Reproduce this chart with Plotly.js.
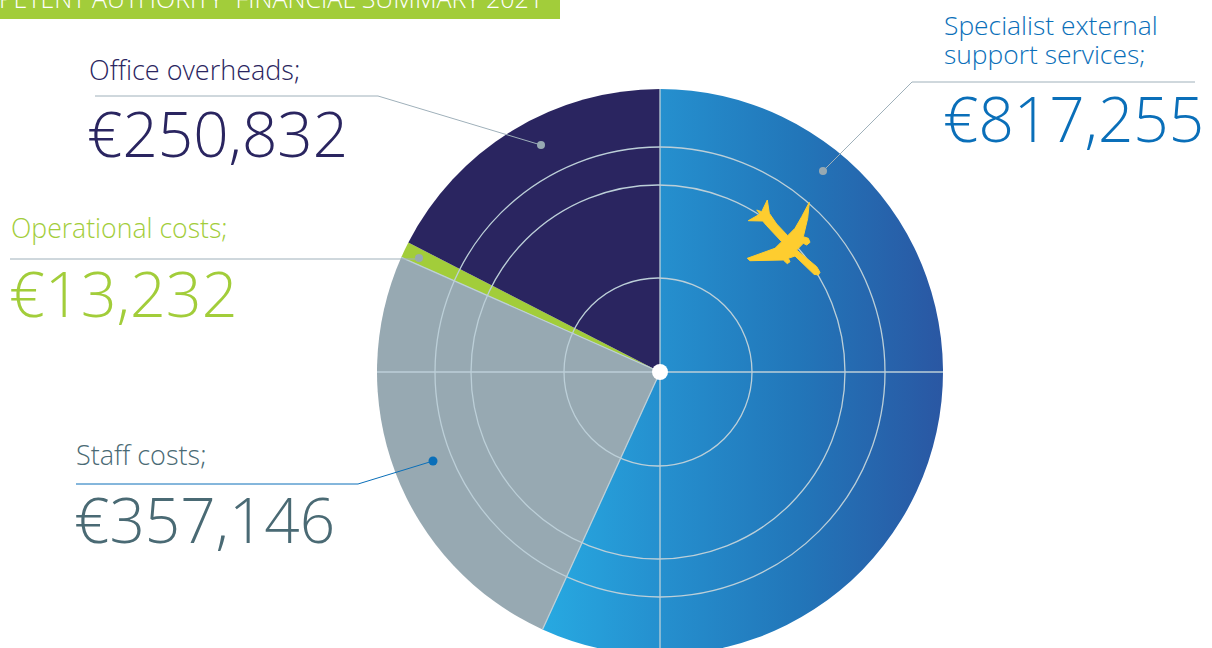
<!DOCTYPE html>
<html>
<head>
<meta charset="utf-8">
<script src="https://cdn.plot.ly/plotly-3.0.1.min.js"></script>
<style>html,body{margin:0;padding:0;background:#fff;overflow:hidden;width:1212px;height:648px}#chart{width:1212px;height:720px}</style>
</head>
<body>
<div id="chart"></div>
<script>
const categories = ["Specialist external support services", "Staff costs", "Operational costs", "Office overheads"];
const values = [817255, 357146, 13232, 250832];
const sliceColors = ["#2280c2", "#97a9b2", "#a2cd3a", "#2a2560"];
const valueLabels = ["€817,255", "€357,146", "€13,232", "€250,832"];
const ringRadii = [94, 187, 225];
const ringCentres = [658, 658, 660];
const W = 1212, H = 720, CX = 660, CY = 372, R = 283;
const px = x => x / W, py = y => 1 - y / H;

const shapes = [];
const refs = {xref: "paper", yref: "paper"};
const rect = (x0, y0, x1, y1, fill) => shapes.push({...refs, type: "rect", x0: px(x0), y0: py(y0), x1: px(x1), y1: py(y1), fillcolor: fill, line: {width: 0}, layer: "above"});
const seg = (pts, color, w) => shapes.push({...refs, type: "path", path: "M" + pts.map(p => px(p[0]) + "," + py(p[1])).join("L"), line: {color, width: w}, layer: "above"});
const dot = (x, y, r, fill) => shapes.push({...refs, type: "circle", x0: px(x - r), x1: px(x + r), y0: py(y - r), y1: py(y + r), fillcolor: fill, line: {width: 0}, layer: "above"});

rect(0, -5, 560, 19, "#a2cd3a");

const gridColor = "#bccfd8";
ringRadii.forEach((r, i) => shapes.push({...refs, type: "circle", x0: px(ringCentres[i] - r), x1: px(ringCentres[i] + r), y0: py(CY - r), y1: py(CY + r), line: {color: gridColor, width: 1.3}, layer: "above"}));
seg([[CX, CY - R], [CX, CY + R]], gridColor, 1.3);
seg([[CX - R, CY], [CX + R, CY]], gridColor, 1.3);

const total = values.reduce((a, b) => a + b, 0);
let cum = 0;
values.forEach((v, i) => {
  cum += v;
  if (i === 0 || i === 1) {
    const a = cum / total * 2 * Math.PI;
    seg([[CX, CY], [CX + R * Math.sin(a), CY - R * Math.cos(a)]], gridColor, 1.3);
  }
});

const plane = [[767.3,200],[769.3,213.3],[776.7,224],[787.7,235.7],[795,228.3],[801.7,216.7],[809.3,202.3],[807.7,218.3],[803.3,236.7],[808.3,238.3],[810,242.3],[806.7,245],[803.3,243.3],[796.7,250],[816.7,266.7],[820,272.3],[818.3,275],[814,274.3],[795,256],[788.3,258.3],[790,261.7],[787.3,263.7],[783.3,260],[750,260.7],[747.3,258.3],[775,248.3],[781.7,241.7],[766.7,225.7],[762.7,221],[748.3,220.7],[760,214],[756.7,210],[761.7,211.7]];
shapes.push({...refs, type: "path", path: "M" + plane.map(p => px(p[0]) + "," + py(p[1])).join("L") + "Z", fillcolor: "#fecd2f", line: {width: 1, color: "#fecd2f"}, layer: "above"});

const leaderGrey = "#9fb0ba";
seg([[95, 96], [378, 96], [541, 145]], leaderGrey, 1);
dot(541, 145, 4, "#97a9b2");
seg([[10, 259], [418, 259]], leaderGrey, 1);
dot(419, 258, 4, "#97a9b2");
seg([[1195, 82], [912, 82], [823, 171]], leaderGrey, 1);
dot(823, 171, 4, "#97a9b2");
seg([[76, 484], [358, 484], [433, 461]], "#0a6fb9", 1);
dot(433, 461, 4.5, "#0a6fb9");
dot(CX, CY, 8, "#ffffff");

const labelFont = "Open Sans, sans-serif";
const note = (text, x, base, size, color) => ({
  text, x: px(x), y: py(base + size * 0.29), xref: "paper", yref: "paper", xanchor: "left", yanchor: "bottom",
  showarrow: false, align: "left", borderpad: 0,
  font: {family: labelFont, size, color, weight: 300}
});
const annotations = [
  note("PETENT AUTHORITY\u00a0\u00a0FINANCIAL SUMMARY 2021", -2, 9, 25, "#ffffff"),
  note("Office overheads;", 88, 81, 27, "#2a2560"),
  note(valueLabels[3], 86, 158, 62, "#2a2560"),
  note("Operational costs;", 10, 239, 26.6, "#a2cd3a"),
  note(valueLabels[2], 8, 318, 62.8, "#a2cd3a"),
  note("Staff costs;", 75, 466, 27, "#4a6a74"),
  note(valueLabels[1], 73, 544, 62, "#4a6a74"),
  note("Specialist external", 943, 36, 26.4, "#0a6fb9"),
  note("support services;", 943, 65, 26.4, "#0a6fb9"),
  note(valueLabels[0], 942, 143, 62, "#0a6fb9")
];

const trace = {
  type: "pie", labels: categories, values, sort: false, direction: "clockwise", rotation: 0,
  marker: {colors: sliceColors, line: {width: 0}},
  textinfo: "none", hoverinfo: "label+value", showlegend: false,
  domain: {x: [px(CX - R), px(CX + R)], y: [py(CY + R), py(CY - R)]}
};
const layout = {width: W, height: H, margin: {l: 0, r: 0, t: 0, b: 0}, paper_bgcolor: "#fff", showlegend: false, shapes, annotations};

Plotly.newPlot("chart", [trace], layout, {displayModeBar: false, responsive: false}).then(gd => {
  const svg = gd.querySelector("svg.main-svg");
  const ns = "http://www.w3.org/2000/svg";
  const defs = svg.querySelector("defs");
  const g = document.createElementNS(ns, "linearGradient");
  g.setAttribute("id", "blueSlice");
  [[0, "#27a9e1"], [0.29, "#2590cf"], [0.64, "#2276b9"], [1, "#2a57a3"]].forEach(s => {
    const st = document.createElementNS(ns, "stop");
    st.setAttribute("offset", s[0]);
    st.setAttribute("stop-color", s[1]);
    g.appendChild(st);
  });
  defs.appendChild(g);
  const slice = gd.querySelector(".pielayer .slice path.surface");
  if (slice) slice.style.fill = "url(#blueSlice)";
});
</script>
</body>
</html>
